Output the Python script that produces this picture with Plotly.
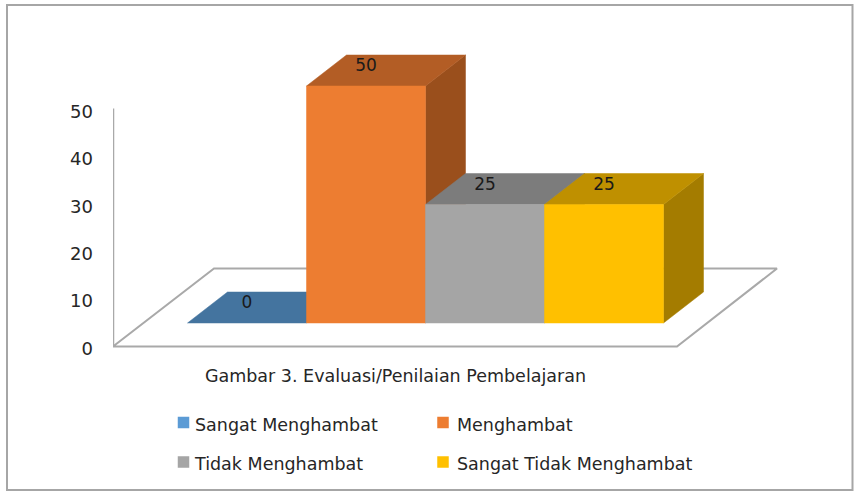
import plotly.graph_objects as go

categories = ["Sangat Menghambat", "Menghambat", "Tidak Menghambat", "Sangat Tidak Menghambat"]
values = [0, 50, 25, 25]
front_colors = ["#5b9bd5", "#ed7d31", "#a5a5a5", "#ffc000"]
top_colors = ["#44749f", "#b35d25", "#7c7c7c", "#bf9000"]
side_colors = ["#386087", "#9a4f1c", "#6a6a6a", "#a47c00"]
tick_values = [0, 10, 20, 30, 40, 50]
title_text = "Gambar 3. Evaluasi/Penilaian Pembelajaran"

W, H = 854, 491
LEFT = 113
BAR_W = 119.0          # px per category
X0_PX = 187.5          # px of the first bar's left edge
Y0_PX = 346.5          # px of value 0
PX_PER_UNIT = 4.74


def ux(px):
    return (px - X0_PX) / BAR_W


def uy(py):
    return (Y0_PX - py) / PX_PER_UNIT


DX = 40 / BAR_W
DY = 31 / PX_PER_UNIT
BASE = uy(323)
AXIS_GREY = "#a9a9a9"
TEXT = "#262626"
NUM_FONT = dict(family="DejaVu Sans", size=18, color=TEXT)
TXT_FONT = dict(family="DejaVu Sans", size=17.5, color=TEXT)

fig = go.Figure()

# floor
fig.add_trace(go.Scatter(
    x=[ux(113), ux(677), ux(777), ux(214), ux(113)],
    y=[uy(346.5), uy(346.5), uy(268.5), uy(268.5), uy(346.5)],
    mode="lines", line=dict(color=AXIS_GREY, width=2), showlegend=False, hoverinfo="skip"))
# value axis line
fig.add_trace(go.Scatter(
    x=[ux(113), ux(113)], y=[0, 50.2], mode="lines",
    line=dict(color=AXIS_GREY, width=2.5), showlegend=False, hoverinfo="skip"))


def poly(xs, ys, color, name):
    fig.add_trace(go.Scatter(
        x=xs + xs[:1], y=ys + ys[:1], mode="lines", fill="toself", fillcolor=color,
        line=dict(color=color, width=0.5), name=name, showlegend=False, hoverinfo="name"))


for i, (cat, v) in enumerate(zip(categories, values)):
    l, r, b, t = i, i + 1, BASE, BASE + v
    if v > 0:
        poly([r, r + DX, r + DX, r], [b, b + DY, t + DY, t], side_colors[i], cat)
    poly([l, r, r + DX, l + DX], [t, t, t + DY, t + DY], top_colors[i], cat)
    if v > 0:
        poly([l, r, r, l], [b, b, t, t], front_colors[i], cat)

# data labels
fig.add_trace(go.Scatter(
    x=[i + 0.5 for i in range(len(values))],
    y=[BASE + v + DY / 2 + 0.7 for v in values],
    text=[str(v) for v in values], mode="text", textposition="middle center",
    textfont=dict(family="DejaVu Sans", size=17, color="#1a1a1a"),
    showlegend=False, hoverinfo="skip"))

# legend keys and their labels
key_x = [183.5, 443, 183.5, 443]
key_y = [422.5, 422.5, 462, 462]
text_x = [195, 457, 195, 457]
for i, cat in enumerate(categories):
    fig.add_trace(go.Scatter(
        x=[ux(key_x[i])], y=[uy(key_y[i])], mode="markers", name=cat, showlegend=False,
        marker=dict(symbol="square", size=11.5, color=front_colors[i]), hoverinfo="name", cliponaxis=False))
    fig.add_trace(go.Scatter(
        x=[ux(text_x[i])], y=[uy(key_y[i] + 4)], text=[cat], mode="text",
        textposition="middle right", textfont=TXT_FONT, showlegend=False,
        hoverinfo="skip", cliponaxis=False))

# chart frame
fig.add_shape(type="rect", xref="paper", yref="paper",
              x0=(7 - LEFT) / (W - LEFT), x1=(852.5 - LEFT) / (W - LEFT),
              y0=1 - 490 / H, y1=1 - 5 / H,
              line=dict(color="#a6a6a6", width=2), fillcolor="rgba(0,0,0,0)", layer="below")

fig.update_layout(
    width=W, height=H,
    margin=dict(l=LEFT, r=0, t=0, b=0, autoexpand=False),
    paper_bgcolor="white", plot_bgcolor="white", showlegend=False,
    title=dict(text=title_text, font=TXT_FONT, xref="container", yref="container",
               x=395.5 / W, xanchor="center", y=1 - 376 / H, yanchor="middle"),
    xaxis=dict(range=[ux(LEFT), ux(W)], visible=False, fixedrange=True),
    yaxis=dict(range=[uy(H), uy(0)], tickmode="array", tickvals=tick_values,
               showgrid=False, zeroline=False, showline=False, ticks="",
               ticklabelstandoff=19, ticklabelshift=2, tickfont=NUM_FONT, fixedrange=True),
)

fig.write_html("out.html", config={"displayModeBar": False},
               post_script="document.body.style.margin='0';document.documentElement.style.overflow='hidden';")
